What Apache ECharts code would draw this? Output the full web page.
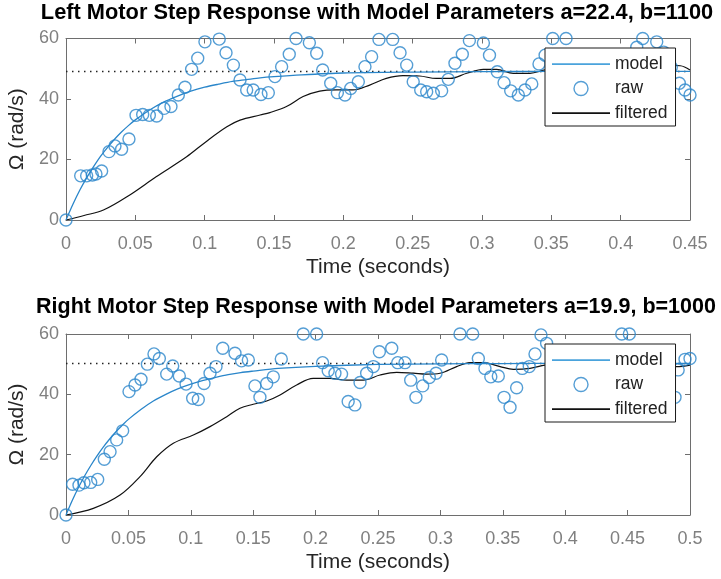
<!DOCTYPE html>
<html><head><meta charset="utf-8">
<script src="https://cdn.jsdelivr.net/npm/echarts@6/dist/echarts.min.js"></script>
<style>html,body{margin:0;padding:0;background:#fff}#c{width:721px;height:579px}</style>
</head><body><div id="c"></div>
<script>
// ---------- data (time in s, omega in rad/s) ----------
const leftTitle = 'Left Motor Step Response with Model Parameters a=22.4, b=1100';
const rightTitle = 'Right Motor Step Response with Model Parameters a=19.9, b=1000';
const leftSteady = 49.1;
const rightSteady = 50.25;
const leftXMax = 0.45;
const rightXMax = 0.5;

const leftRaw = [
 [0,0],[0.0106,14.6],[0.0149,14.6],[0.019,14.9],[0.0216,15.2],[0.0257,16.2],[0.031,22.6],[0.0353,24.5],
 [0.0401,23.4],[0.0454,26.8],[0.0505,34.6],[0.0553,34.9],[0.0601,34.6],[0.0654,34.4],[0.0707,36.9],
 [0.0757,37.5],[0.081,41.3],[0.0858,43.9],[0.0906,49.8],[0.095,53.5],[0.1002,58.9],[0.1105,59.8],
 [0.1154,55.3],[0.1207,51.2],[0.1255,46.3],[0.1303,43.0],[0.135,43.0],[0.1406,41.5],[0.1459,42.1],
 [0.1507,47.4],[0.1555,50.7],[0.161,54.8],[0.1659,60],[0.1755,58.6],[0.1808,55.1],[0.1851,49.6],
 [0.1909,45.2],[0.1957,42.1],[0.2012,41.3],[0.2053,43.5],[0.2108,45.7],[0.2156,50.7],[0.2204,54.0],
 [0.2257,59.7],[0.2356,59.7],[0.2409,55.3],[0.2457,51.2],[0.2504,45.7],[0.2558,43.0],[0.2601,42.4],
 [0.2649,41.9],[0.2709,42.7],[0.2757,46.5],[0.2805,51.8],[0.2858,54.8],[0.2909,59.3],[0.301,58.5],
 [0.3054,54.5],[0.311,49.0],[0.3159,45.4],[0.3207,42.7],[0.3262,41.3],[0.331,43.0],[0.3359,45.0],
 [0.3411,51.6],[0.3455,54.5],[0.351,60],[0.3606,60],[0.4116,57.1],[0.4159,60],[0.426,58.9],
 [0.431,55.5],[0.4365,50.5],[0.4423,45.2],[0.4464,43.0],[0.45,41.3]
];
const leftModel = [
 [0,0],[0.005,5.2],[0.01,9.9],[0.015,14.0],[0.02,17.7],[0.025,21.1],[0.03,24.0],[0.035,26.7],[0.04,29.1],
 [0.045,31.2],[0.05,33.1],[0.06,36.3],[0.07,38.9],[0.08,40.9],[0.09,42.6],[0.10,43.9],[0.11,44.9],
 [0.12,45.8],[0.13,46.4],[0.14,47.0],[0.15,47.4],[0.17,48.0],[0.20,48.6],[0.25,48.9],[0.30,49.05],
 [0.35,49.1],[0.40,49.1],[0.45,49.1]
];
const leftFiltered = [
 [0,0],[0.013,1.5],[0.027,3.3],[0.046,8.3],[0.065,14.3],[0.087,20.9],[0.101,25.9],[0.116,30.8],
 [0.1255,33.0],[0.14,34.7],[0.147,35.5],[0.159,37.5],[0.171,40.8],[0.183,42.6],[0.195,43.0],[0.207,43.0],
 [0.219,44.6],[0.231,46.8],[0.243,47.7],[0.255,47.6],[0.267,46.8],[0.277,46.8],[0.289,48.5],[0.301,49.8],
 [0.3105,49.8],[0.3226,48.5],[0.3346,48.5],[0.3455,49.6],[0.36,50.5],[0.38,51.0],[0.40,50.8],
 [0.42,51.3],[0.443,51.0],[0.45,49.6]
];

const rightRaw = [
 [0,0],[0.0053,10.2],[0.0104,9.9],[0.0144,10.7],[0.0198,10.8],[0.0254,11.8],[0.0307,18.5],[0.0353,21.0],
 [0.0406,24.9],[0.0454,27.9],[0.0505,40.9],[0.0553,43.1],[0.0601,45.0],[0.0652,50.0],[0.0705,53.4],
 [0.0748,51.9],[0.0807,46.7],[0.0855,49.4],[0.0908,46.1],[0.0962,43.4],[0.1015,38.7],[0.106,38.3],
 [0.1106,43.6],[0.1154,47.0],[0.1202,49.2],[0.1256,55.3],[0.1354,53.6],[0.1407,51.1],[0.1461,51.4],
 [0.1514,42.8],[0.1554,39.0],[0.1608,43.6],[0.1661,45.8],[0.1725,51.7],[0.1901,60],[0.2008,60],
 [0.2056,50.5],[0.2101,47.8],[0.2155,47.0],[0.2208,46.7],[0.2261,37.6],[0.2315,36.5],[0.2356,43.9],
 [0.2409,47.0],[0.2463,49.2],[0.2511,54.1],[0.261,55.3],[0.2658,50.5],[0.2716,50.5],[0.2762,44.7],
 [0.2804,39.0],[0.2858,42.8],[0.2911,45.6],[0.2965,47.0],[0.301,51.4],[0.3157,60],[0.3259,60],
 [0.3304,51.9],[0.3357,48.6],[0.3404,45.8],[0.3464,46.1],[0.351,39.0],[0.3558,35.7],[0.3611,42.2],
 [0.3656,48.6],[0.3712,49.2],[0.3758,53.4],[0.3806,59.7],[0.3851,56.9],[0.4453,60],[0.4514,60],
 [0.488,39.0],[0.4905,48.1],[0.496,51.6],[0.5,51.9]
];
const rightModel = [
 [0,0],[0.005,4.8],[0.01,9.1],[0.015,13.0],[0.02,16.5],[0.025,19.7],[0.03,22.6],[0.035,25.2],[0.04,27.6],
 [0.045,29.7],[0.05,31.7],[0.06,35.0],[0.07,37.8],[0.08,40.0],[0.09,41.9],[0.10,43.4],[0.11,44.6],
 [0.12,45.6],[0.13,46.5],[0.14,47.2],[0.15,47.7],[0.17,48.6],[0.20,49.3],[0.25,49.9],[0.30,50.1],
 [0.35,50.2],[0.40,50.25],[0.45,50.25],[0.50,50.25]
];
const rightFiltered = [
 [0,0],[0.0219,2.2],[0.0433,6.6],[0.0593,12.7],[0.0727,19.3],[0.086,23.8],[0.102,26.5],[0.1154,29.3],
 [0.1288,32.6],[0.1394,35.4],[0.150,36.7],[0.1608,37.8],[0.1715,39.8],[0.1848,43.1],[0.1981,45.3],
 [0.2115,45.3],[0.2249,44.7],[0.2382,44.7],[0.2516,46.4],[0.265,47.3],[0.2783,47.0],[0.289,46.7],
 [0.2997,47.0],[0.313,49.2],[0.3237,50.5],[0.3344,50.5],[0.3478,49.2],[0.3585,48.3],[0.3718,48.6],
 [0.3838,49.7],[0.40,50.5],[0.42,51.0],[0.44,50.6],[0.46,50.0],[0.4893,49.2],[0.5,49.7]
];
const yTicks = [0, 20, 40, 60];
const legendNames = ['model', 'raw', 'filtered'];

// ---------- styling ----------
const FONT = '"Liberation Sans", Arial, Helvetica, sans-serif';
const AXIS = '#6e6e6e';
const BLUE = '#2a86ca';
const fmt = v => String(+(+v).toFixed(2));
const LINE_ICON = 'path://M0,0h0.01v0.01h-0.01zM0,7h58v2h-58zM0,15.99h0.01v0.01h-0.01z';

function makeX(grid, max, top) {
  return {
    type: 'value', gridIndex: grid, min: 0, max: max, interval: 0.05,
    position: top ? 'top' : 'bottom',
    axisLine: {show: true, onZero: false, lineStyle: {color: AXIS, width: 1}},
    axisTick: {show: true, inside: true, length: 5, lineStyle: {color: AXIS}},
    splitLine: {show: false},
    axisLabel: top ? {show: false} : {color: '#808080', fontSize: 18, fontFamily: FONT, margin: 15, formatter: fmt, showMaxLabel: true, showMinLabel: true},
    name: top ? '' : 'Time (seconds)', nameLocation: 'middle', nameGap: 37,
    nameTextStyle: {color: '#262626', fontSize: 21, fontFamily: FONT}
  };
}
function makeY(grid, right) {
  return {
    type: 'value', gridIndex: grid, min: yTicks[0], max: yTicks[yTicks.length - 1], interval: 20,
    position: right ? 'right' : 'left',
    axisLine: {show: true, onZero: false, lineStyle: {color: AXIS, width: 1}},
    axisTick: {show: true, inside: true, length: 5, lineStyle: {color: AXIS}},
    splitLine: {show: false},
    axisLabel: right ? {show: false} : {color: '#808080', fontSize: 18, fontFamily: FONT, margin: 7},
    name: right ? '' : 'Ω (rad/s)', nameLocation: 'middle', nameGap: 32,
    nameTextStyle: {color: '#262626', fontSize: 21, fontFamily: FONT}
  };
}
function makeLegend(top) {
  return {
    left: 545, top: top, orient: 'vertical', z: 20,
    backgroundColor: '#fff', borderColor: '#1a1a1a', borderWidth: 1, borderRadius: 0,
    padding: [7, 8, 4, 7], itemWidth: 58, itemHeight: 14, itemGap: 6.5,
    selectedMode: false, symbolKeepAspect: false,
    textStyle: {fontSize: 17.5, fontFamily: FONT, color: '#222'},
    data: [
      {name: legendNames[0], icon: LINE_ICON, itemStyle: {color: '#4aa3dc', borderWidth: 0}},
      {name: legendNames[1], icon: 'circle', itemStyle: {color: 'rgba(0,0,0,0)', borderColor: BLUE, borderWidth: 1.4}},
      {name: legendNames[2], icon: LINE_ICON, itemStyle: {color: '#111', borderWidth: 0}}
    ]
  };
}
function seriesFor(gi, raw, model, filtered, steady, xmax) {
  const xi = gi * 2, yi = gi * 2;
  return [
    {type: 'line', name: 'ss', xAxisIndex: xi, yAxisIndex: yi, data: [[0, steady], [xmax, steady]],
     symbol: 'none', silent: true, lineStyle: {color: '#222', width: 1.5, type: [1.5, 4.5]}, z: 1},
    {type: 'line', name: legendNames[2], xAxisIndex: xi, yAxisIndex: yi, data: filtered, smooth: 0.35,
     symbol: 'none', lineStyle: {color: '#111', width: 1.2}, itemStyle: {color: '#111'}, z: 2},
    {type: 'line', name: legendNames[0], xAxisIndex: xi, yAxisIndex: yi, data: model, smooth: 0.3,
     symbol: 'none', lineStyle: {color: BLUE, width: 1.3}, itemStyle: {color: BLUE}, z: 3},
    {type: 'scatter', name: legendNames[1], xAxisIndex: xi, yAxisIndex: yi, data: raw, clip: false,
     symbol: 'circle', symbolSize: 12,
     itemStyle: {color: 'rgba(0,0,0,0)', borderColor: BLUE, borderWidth: 1.4}, z: 4}
  ];
}

const chart = echarts.init(document.getElementById('c'), null, {renderer: 'canvas'});
chart.setOption({
  animation: false,
  backgroundColor: '#fff',
  title: [
    {text: leftTitle, left: 372, top: -3, textAlign: 'center',
     textStyle: {fontSize: 21.8, fontWeight: 'bold', color: '#000', fontFamily: FONT}},
    {text: rightTitle, left: 371, top: 291, textAlign: 'center',
     textStyle: {fontSize: 21.5, fontWeight: 'bold', color: '#000', fontFamily: FONT}}
  ],
  grid: [
    {left: 66, top: 38.5, width: 624, height: 181.5, outerBoundsMode: 'none', containLabel: false},
    {left: 66, top: 334, width: 624, height: 181, outerBoundsMode: 'none', containLabel: false}
  ],
  legend: [makeLegend(48), makeLegend(344)],
  xAxis: [makeX(0, leftXMax, false), makeX(0, leftXMax, true), makeX(1, rightXMax, false), makeX(1, rightXMax, true)],
  yAxis: [makeY(0, false), makeY(0, true), makeY(1, false), makeY(1, true)],
  series: [].concat(
    seriesFor(0, leftRaw, leftModel, leftFiltered, leftSteady, leftXMax),
    seriesFor(1, rightRaw, rightModel, rightFiltered, rightSteady, rightXMax)
  )
});
</script></body></html>
